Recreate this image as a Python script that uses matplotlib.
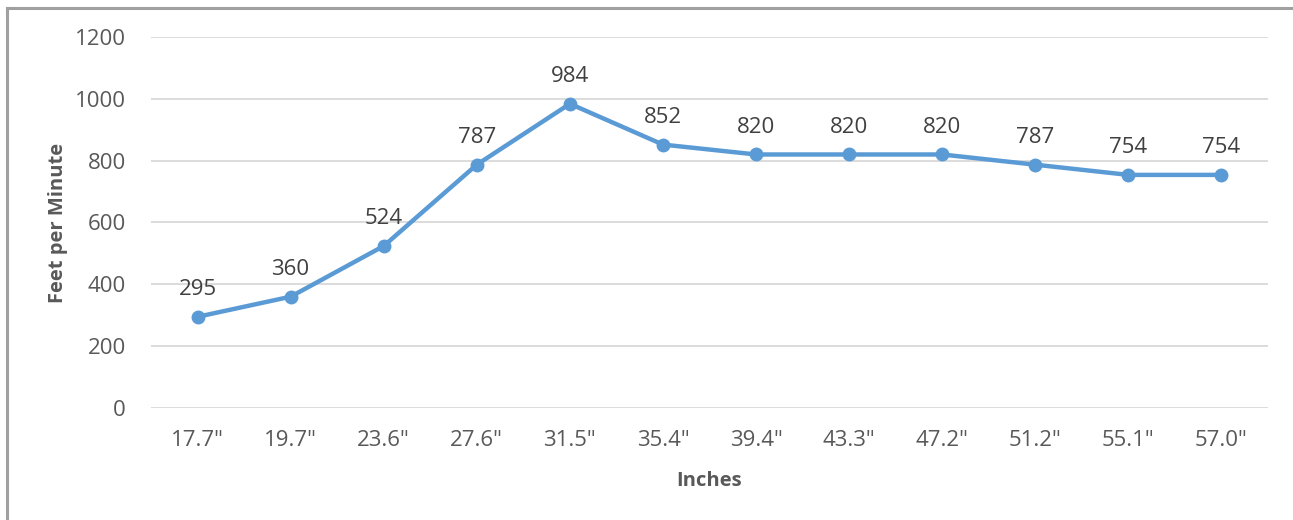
import matplotlib
matplotlib.use("Agg")
import matplotlib.pyplot as plt
from matplotlib.lines import Line2D

categories = ['17.7"', '19.7"', '23.6"', '27.6"', '31.5"', '35.4"', '39.4"',
              '43.3"', '47.2"', '51.2"', '55.1"', '57.0"']
feet_per_minute = [295, 360, 524, 787, 984, 852, 820, 820, 820, 787, 754, 754]
y_ticks = [0, 200, 400, 600, 800, 1000, 1200]

plt.rcParams['font.family'] = ['Open Sans', 'DejaVu Sans']

fig = plt.figure(figsize=(12.93, 5.20), dpi=100)
ax = fig.add_axes([151/1293, 1 - 408/520, (1268-151)/1293, (408-37)/520])

x = list(range(len(categories)))
ax.plot(x, feet_per_minute, color='#5B9BD5', linewidth=3.2, marker='o',
        markersize=9, zorder=3, solid_capstyle='round')
for xi, v in zip(x, feet_per_minute):
    ax.annotate(str(v), (xi, v), xytext=(0, 12), textcoords='offset points',
                ha='center', va='bottom', fontsize=16, color='#404040')

ax.set_xlim(-0.5, len(categories) - 0.5)
ax.set_ylim(0, 1200)
ax.set_yticks(y_ticks)
ax.set_xticks(x)
ax.set_xticklabels(categories)
ax.grid(axis='y', color='#D9D9D9', linewidth=1.3)
ax.set_axisbelow(True)
for s in ax.spines.values():
    s.set_visible(False)
ax.tick_params(axis='both', length=0, labelsize=16, colors='#595959')
ax.tick_params(axis='y', pad=18)
ax.tick_params(axis='x', pad=16)
ax.set_xlabel('Inches', fontsize=14.5, fontweight='bold', color='#595959', labelpad=14)
ax.set_ylabel('Feet per Minute', fontsize=14.5, fontweight='bold', color='#595959', labelpad=5)

# outer border (top and left)
fig.add_artist(Line2D([7/1293, 7/1293], [0, 1 - 8/520], transform=fig.transFigure,
                      color='#A0A0A0', linewidth=2.2))
fig.add_artist(Line2D([7/1293, 1], [1 - 8/520, 1 - 8/520], transform=fig.transFigure,
                      color='#A0A0A0', linewidth=2.2))

fig.savefig('out.png', dpi=100)
